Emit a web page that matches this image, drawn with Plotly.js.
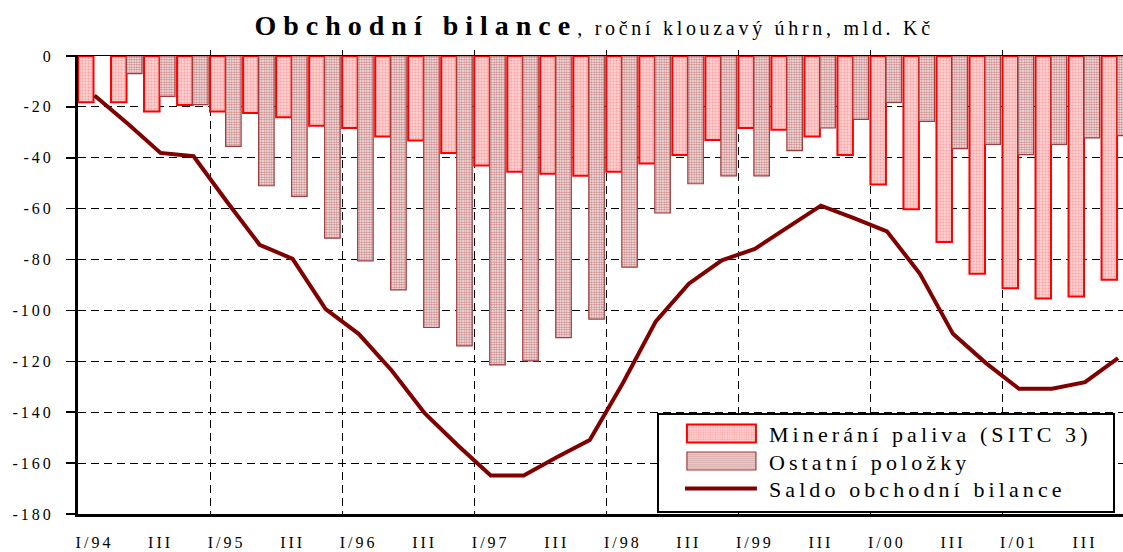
<!DOCTYPE html>
<html><head><meta charset="utf-8">
<script src="https://cdn.plot.ly/plotly-3.0.1.min.js"></script>
<style>
html,body{margin:0;padding:0;background:#fff;overflow:hidden}
#chart{width:1123px;height:552px}
.xtick text,.ytick text{letter-spacing:3px}
.legendtext{letter-spacing:4.1px}
</style></head><body><div id="chart"></div>
<script>
const quarters = ['I/94','II/94','III/94','IV/94','I/95','II/95','III/95','IV/95',
  'I/96','II/96','III/96','IV/96','I/97','II/97','III/97','IV/97',
  'I/98','II/98','III/98','IV/98','I/99','II/99','III/99','IV/99',
  'I/00','II/00','III/00','IV/00','I/01','II/01','III/01','IV/01'];
const fuels = [-18.2,-18.2,-21.8,-19.3,-21.8,-22.4,-24.1,-27.4,
  -28.3,-31.6,-33.2,-38.1,-43.0,-45.5,-46.3,-47.1,
  -45.5,-42.2,-38.9,-33.0,-28.3,-29.0,-31.6,-38.9,
  -50.5,-60.2,-73.1,-85.6,-91.3,-95.3,-94.5,-87.9];
const others = [null,-6.9,-15.9,-19.1,-35.5,-51.0,-55.2,-71.6,
  -80.5,-91.9,-106.7,-113.9,-121.4,-119.8,-110.7,-103.4,
  -83.0,-61.7,-50.2,-47.1,-47.1,-37.2,-28.3,-24.9,
  -18.2,-25.7,-36.4,-34.7,-38.8,-34.7,-32.2,-31.3];
const saldo = [-15.5,-26.5,-38.1,-39.4,-57.1,-74.2,-79.7,-99.5,
  -109.2,-123.6,-140.4,-153.0,-164.9,-164.9,-157.7,-150.9,
  -128.6,-104.3,-89.5,-80.3,-75.8,-67.1,-58.8,-63.7,
  -68.9,-85.6,-109.2,-120.7,-130.8,-130.8,-128.2,-118.7];
const tickCats = ['I/94','III/94','I/95','III/95','I/96','III/96','I/97','III/97',
  'I/98','III/98','I/99','III/99','I/00','III/00','I/01','III/01'];
const tickLabels = ['I/94','III','I/95','III','I/96','III','I/97','III',
  'I/98','III','I/99','III','I/00','III','I/01','III'];
const yTickVals = [0,-20,-40,-60,-80,-100,-120,-140,-160,-180];
const yTickText = ['0','-20','-40','-60','-80','-100','-120','-140','-160','-180'];
const yearBounds = [3.5,7.5,11.5,15.5,19.5,23.5,27.5];
const seriesNames = ['Minerání paliva (SITC 3)','Ostatní položky','Saldo obchodní bilance'];

const FONT = 'Liberation Serif, Times New Roman, serif';
const xr = [-0.5, 31.15];

const traces = [
  {type:'bar', name:seriesNames[0], x:quarters, y:fuels, offset:-0.5, width:0.47,
   marker:{color:'#ffc8c8', line:{color:'#ff0000', width:2},
     pattern:{shape:'.', fgcolor:'#ffa0a0', bgcolor:'#ffd0d0', size:3, solidity:0.3}},
   cliponaxis:true, hoverinfo:'skip'},
  {type:'bar', name:seriesNames[1], x:quarters, y:others, offset:-0.03, width:0.47,
   marker:{color:'#e8c8c8', line:{color:'#a03c3c', width:1.2},
     pattern:{shape:'.', fgcolor:'#c88080', bgcolor:'#ffffff', size:2.5, solidity:0.6}},
   cliponaxis:true, hoverinfo:'skip'},
  {type:'scatter', mode:'lines', name:seriesNames[2], x:quarters, y:saldo,
   line:{color:'#800000', width:4}, hoverinfo:'skip'},
  {type:'scatter', mode:'lines', x:[], y:[], xaxis:'x2', yaxis:'y', showlegend:false, hoverinfo:'skip'}
];

const layout = {
  width:1123, height:552,
  margin:{l:78, r:0, t:56, b:38},
  paper_bgcolor:'#ffffff', plot_bgcolor:'#ffffff',
  font:{family:FONT, color:'#000'},
  showlegend:true,
  barmode:'overlay',
  title:{
    text:'<b><span style="font-size:28px;letter-spacing:7px">Obchodní bilance</span></b><span style="letter-spacing:3.7px">, roční klouzavý úhrn, mld. Kč</span>',
    font:{family:FONT, size:20, color:'#000'},
    x:0.529, xref:'container', xanchor:'center',
    y:0.95, yref:'container', yanchor:'middle'
  },
  xaxis:{
    type:'category', range:xr, fixedrange:true,
    tickmode:'array', tickvals:tickCats, ticktext:tickLabels,
    ticks:'', showgrid:false, zeroline:false,
    showline:true, linecolor:'#000', linewidth:2.5,
    tickfont:{family:FONT, size:16, color:'#000'},
    ticklabelstandoff:12
  },
  xaxis2:{
    type:'linear', overlaying:'x', anchor:'y', side:'top', range:xr,
    tickmode:'array', tickvals:yearBounds, showticklabels:false,
    ticks:'outside', ticklen:5, tickwidth:1, tickcolor:'#000',
    showgrid:true, gridcolor:'#000', gridwidth:1, griddash:'8px,5px',
    zeroline:false, showline:true, linecolor:'#000', linewidth:1.5
  },
  yaxis:{
    range:[-180,0], fixedrange:true,
    tickmode:'array', tickvals:yTickVals, ticktext:yTickText,
    ticks:'outside', ticklen:9, tickwidth:1.5, tickcolor:'#000',
    showgrid:true, gridcolor:'#000', gridwidth:1, griddash:'8px,5px',
    zeroline:false, showline:true, linecolor:'#000', linewidth:3,
    tickfont:{family:FONT, size:16, color:'#000'},
    ticklabelstandoff:9
  },
  legend:{
    x:0.554, y:0.2205, xanchor:'left', yanchor:'top',
    bgcolor:'#ffffff', bordercolor:'#000', borderwidth:2,
    font:{family:FONT, size:22, color:'#000'},
    itemwidth:100, traceorder:'normal'
  }
};

Plotly.newPlot('chart', traces, layout, {displayModeBar:false, staticPlot:true}).then(function(gd){
  const leg = gd.querySelector('.legend');
  if(!leg) return;
  // long legend swatches like in the original
  leg.querySelectorAll('path.legendbar, path.legendundefined').forEach(function(p){
    p.removeAttribute('transform');
    p.setAttribute('d','M28,-9H97V9H28Z');
  });
  leg.querySelectorAll('path.js-line').forEach(function(p){
    p.setAttribute('d','M26,0H98');
  });
  // legend frame size and row spacing as in the original
  const bg = leg.querySelector('rect.bg');
  if(bg){ bg.setAttribute('width', 456); bg.setAttribute('height', 98); }
  const rows = [20.5, 48, 75.5];
  leg.querySelectorAll('g.traces').forEach(function(t, i){
    if(i < rows.length) t.setAttribute('transform', 'translate(2,' + rows[i] + ')');
  });
});
</script></body></html>
